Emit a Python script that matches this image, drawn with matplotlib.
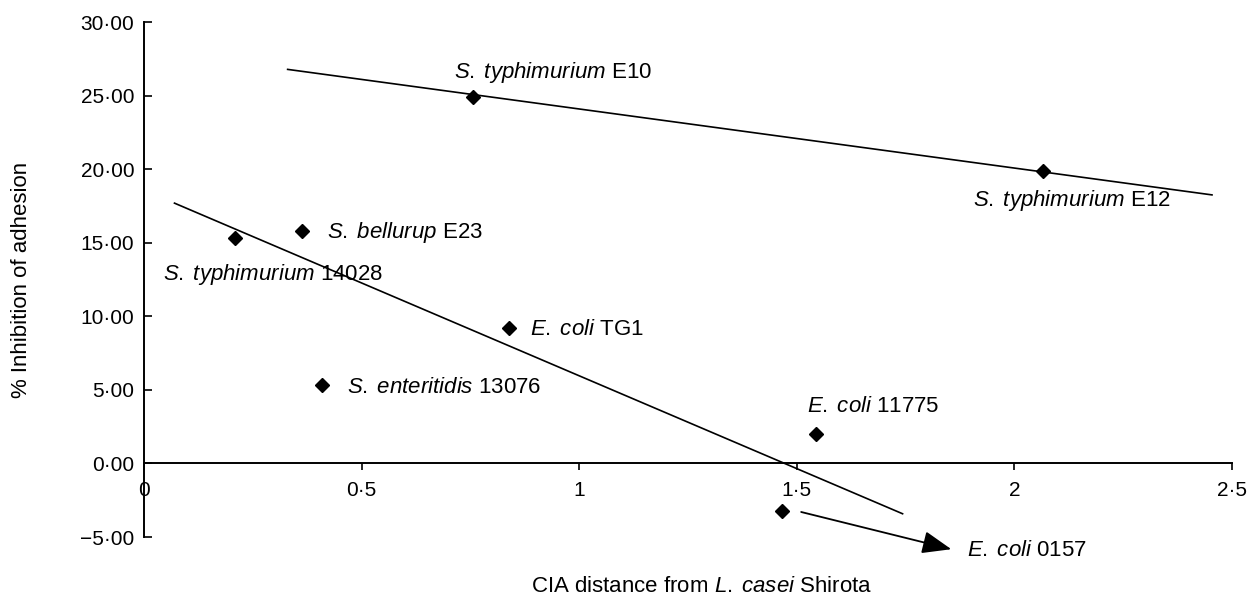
import numpy as np
import matplotlib
matplotlib.use("Agg")
import matplotlib.pyplot as plt
from matplotlib.ticker import FixedLocator, FixedFormatter

plt.rcParams['font.family'] = ['Liberation Sans', 'DejaVu Sans']
plt.rcParams['mathtext.fontset'] = 'custom'
plt.rcParams['mathtext.rm'] = 'Liberation Sans'
plt.rcParams['mathtext.it'] = 'Liberation Sans:italic'

## Data

# strain names (italic part, plain part)
strain_genus = ["S.\\;typhimurium", "S.\\;bellurup", "E.\\;coli", "S.\\;enteritidis",
                "S.\\;typhimurium", "S.\\;typhimurium", "E.\\;coli", "E.\\;coli"]
strain_code = ["14028", "E23", "TG1", "13076", "E10", "E12", "11775", "0157"]

# CIA distance from L. casei Shirota
cia_distance = [0.209, 0.364, 0.838, 0.409, 0.756, 2.066, 1.544, 1.467]
# % inhibition of adhesion
inhibition = [15.31, 15.83, 9.20, 5.31, 24.88, 19.90, 2.03, -3.23]

# trend lines
trend1_x = [0.33, 2.454]
trend1_y = [26.78, 18.25]
trend2_x = [0.07, 1.743]
trend2_y = [17.69, -3.42]

x_ticks = [0, 0.5, 1, 1.5, 2, 2.5]
x_ticklabels = ["0", "0\u00b75", "1", "1\u00b75", "2", "2\u00b75"]
y_ticks = [-5, 0, 5, 10, 15, 20, 25, 30]
y_ticklabels = ["\u22125\u00b700", "0\u00b700", "5\u00b700", "10\u00b700", "15\u00b700",
                "20\u00b700", "25\u00b700", "30\u00b700"]

## Label placement (x, y, ha)
label_pos = [(0.043, 12.82, 'left'), (0.42, 15.70, 'left'), (0.886, 9.09, 'left'),
             (0.467, 5.18, 'left'), (0.940, 26.55, 'center'), (2.133, 17.90, 'center'),
             (1.523, 3.89, 'left'), (1.891, -5.95, 'left')]

fig = plt.figure(figsize=(12.48, 5.98), dpi=100)
ax = fig.add_axes([0.1154, 0.102, 0.8718, 0.8612])

ax.plot(trend1_x, trend1_y, color='black', lw=1.2)
ax.plot(trend2_x, trend2_y, color='black', lw=1.2)
ax.plot(cia_distance, inhibition, 'D', color='black', ms=7.5, ls='none', zorder=3)

for genus, code, (lx, ly, ha) in zip(strain_genus, strain_code, label_pos):
    ax.text(lx, ly, "$" + genus + "$ " + code, ha=ha, va='center',
            fontsize=16, clip_on=False)

# arrow from E. coli 0157 point to its label
ax.annotate('', xy=(1.855, -5.83), xytext=(1.51, -3.30),
            arrowprops=dict(arrowstyle='-|>,head_length=0.9,head_width=0.35',
                            mutation_scale=20, lw=1.3, color='black',
                            shrinkA=0, shrinkB=0),
            annotation_clip=False)

ax.set_xlim(0, 2.5)
ax.set_ylim(-5, 30)

ax.spines['top'].set_visible(False)
ax.spines['right'].set_visible(False)
ax.spines['bottom'].set_position(('data', 0))
ax.spines['left'].set_linewidth(1.4)
ax.spines['bottom'].set_linewidth(1.4)

ax.xaxis.set_major_locator(FixedLocator(x_ticks))
ax.xaxis.set_major_formatter(FixedFormatter(x_ticklabels))
ax.yaxis.set_major_locator(FixedLocator(y_ticks))
ax.yaxis.set_major_formatter(FixedFormatter(y_ticklabels))

ax.tick_params(axis='x', direction='out', length=5, width=1.2, pad=7.5, labelsize=15)
ax.tick_params(axis='y', direction='in', length=6, width=1.2, pad=7, labelsize=15)

ax.set_xlabel("CIA distance from $\\it{L.\\;casei}$ Shirota", fontsize=16)
ax.xaxis.set_label_coords(0.512, -0.076)
ax.set_ylabel("% Inhibition of adhesion", fontsize=16)
ax.yaxis.set_label_coords(-0.103, 0.5)

fig.savefig("out.png", dpi=100)
